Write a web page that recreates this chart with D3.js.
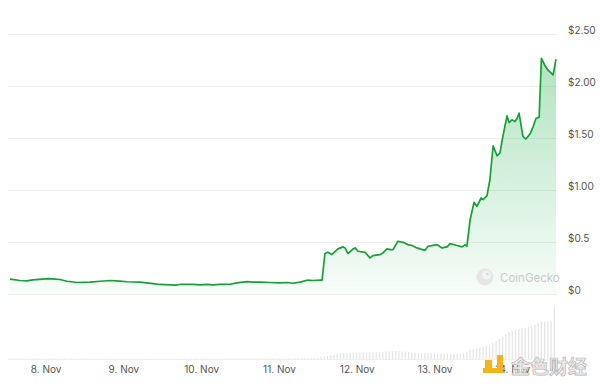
<!DOCTYPE html>
<html>
<head>
<meta charset="utf-8">
<script src="https://cdn.jsdelivr.net/npm/d3@7"></script>
<style>
  html, body { margin: 0; padding: 0; background: #fff; }
  svg { display: block; font-family: Inter, "Noto Sans", sans-serif; }
</style>
</head>
<body>
<svg id="chart" width="600" height="386"></svg>
<script>
// ---- data ----
const startTime = new Date(2024, 10, 7, 13, 0);   // series start
const endTime = new Date(2024, 10, 14, 13, 30);   // series end

// price series: hours after start, price in USD
const priceHours = [0, 3.1, 5.2, 7.1, 9.9, 11.7, 13.9, 15.4, 17.6, 20.7, 24.7, 27.8, 30.9, 33.9, 36.1, 40.1, 44.1,
  46.3, 49.4, 50.9, 52.5, 54.6, 56.5, 58.6, 60.8, 62.6, 64.8, 67.9, 70.0, 73.1, 75.0, 77.2, 80.2, 83.3, 85.5, 87.3, 89.5, 91.7, 93.5, 95.7,
  96.3, 97.2, 98.1, 99.3, 101.2, 102.8, 103.4, 104.3, 105.9, 106.5, 107.4, 109.6, 111.1, 112.0, 114.2, 115.1, 116.3, 117.3, 118.2,
  119.7, 121.3, 122.8, 124.1, 125.6, 126.5, 128.1, 129.0, 130.2, 131.8, 133.3, 134.9, 135.8, 137.9, 139.5, 140.4, 141.0,
  142.0, 143.2, 144.1, 145.4, 146.0, 147.2, 148.1, 149.1, 150.3, 151.2, 152.1, 153.4, 154.0, 154.9, 155.8, 156.5, 157.1,
  158.3, 159.2, 160.5, 161.4, 162.3, 163.3, 164.0, 165.0, 166.0, 167.6, 168.5];
const prices = [0.138, 0.125, 0.122, 0.132, 0.139, 0.144, 0.139, 0.135, 0.118, 0.106, 0.109, 0.118, 0.125, 0.120, 0.113, 0.109, 0.096,
  0.087, 0.084, 0.080, 0.087, 0.089, 0.087, 0.084, 0.087, 0.084, 0.087, 0.089, 0.103, 0.115, 0.109, 0.109, 0.106, 0.103, 0.106, 0.099, 0.109, 0.128, 0.125, 0.128,
  0.128, 0.385, 0.397, 0.375, 0.430, 0.449, 0.439, 0.385, 0.430, 0.439, 0.407, 0.397, 0.343, 0.365, 0.375, 0.391, 0.430, 0.423, 0.423,
  0.503, 0.493, 0.471, 0.462, 0.439, 0.430, 0.416, 0.455, 0.462, 0.471, 0.439, 0.449, 0.481, 0.462, 0.449, 0.468, 0.455,
  0.712, 0.878, 0.839, 0.920, 0.904, 0.942, 1.096, 1.423, 1.327, 1.353, 1.513, 1.712, 1.647, 1.673, 1.657, 1.686, 1.738,
  1.513, 1.488, 1.538, 1.603, 1.686, 1.699, 2.266, 2.202, 2.154, 2.106, 2.257];

// hourly volume (millions USD), hour 0 .. 168
const volumes = [
  0.3, 0.4, 0.3, 0.3, 0.2, 0.3, 0.4, 0.3, 0.3, 0.2, 0.3, 0.3, 0.4, 0.3, 0.2, 0.3, 0.3, 0.3, 0.2, 0.3, 0.3, 0.2, 0.3, 0.3,
  0.2, 0.3, 0.3, 0.2, 0.2, 0.3, 0.3, 0.2, 0.3, 0.2, 0.2, 0.3, 0.2, 0.2, 0.3, 0.2, 0.2, 0.2, 0.3, 0.2, 0.2, 0.2, 0.2, 0.3,
  0.2, 0.2, 0.2, 0.3, 0.2, 0.2, 0.2, 0.2, 0.3, 0.2, 0.2, 0.3, 0.2, 0.2, 0.2, 0.3, 0.2, 0.3, 0.3, 0.3, 0.4, 0.3, 0.3, 0.3,
  0.3, 0.3, 0.4, 0.3, 0.3, 0.3, 0.4, 0.3, 0.3, 0.3, 0.3, 0.4, 0.3, 0.3, 0.3, 0.3, 0.4, 0.4, 0.3, 0.4, 0.5, 0.5, 0.6, 0.6,
  1.0, 1.2, 1.5, 1.8, 2.0, 2.5, 2.8, 3.0, 3.0,
  3.2, 3.3, 3.4, 3.3, 3.5, 3.4, 3.6, 3.5, 3.4, 3.6, 3.7,
  3.8, 3.9, 4.0, 4.1, 4.0, 3.8,
  3.6, 3.5, 3.3, 3.2, 3.0, 3.1, 3.0, 2.9, 2.8,
  2.8, 2.7, 2.8, 2.6, 2.7, 2.6, 2.5, 2.6, 2.7, 2.9,
  3.5, 4.5, 5.0, 5.2, 5.5, 6.0, 6.5, 7.2, 8.0, 9.0, 10.0, 11.0, 12.5, 13.5, 14.2, 14.8, 15.0, 15.3, 15.5, 15.8,
  16.2, 17.0, 18.0, 18.5, 18.8, 19.0, 19.2, 26.0];

const priceTicks = [0, 0.5, 1, 1.5, 2, 2.5];
const priceTickLabels = ["$0", "$0.5", "$1.00", "$1.50", "$2.00", "$2.50"];
const volumeMax = 30;

// ---- drawing ----
const svg = d3.select("#chart");
const HOUR = 3600 * 1000;
const toDate = h => new Date(startTime.getTime() + h * HOUR);

const x = d3.scaleTime().domain([startTime, endTime]).range([10, 556]);
const y = d3.scaleLinear().domain([0, 2.5]).range([293.5, 34]);
const yVol = d3.scaleLinear().domain([0, volumeMax]).range([359, 299]);

const priceData = priceHours.map((h, i) => ({ t: toDate(h), v: prices[i] }));
const volData = volumes.map((v, i) => ({ t: toDate(i), v }));

// gradient
const defs = svg.append("defs");
const grad = defs.append("linearGradient").attr("id", "areaGrad")
  .attr("gradientUnits", "userSpaceOnUse")
  .attr("x1", 0).attr("x2", 0)
  .attr("y1", y(d3.max(prices))).attr("y2", y(0));
grad.append("stop").attr("offset", "0%").attr("stop-color", "#0aa83a").attr("stop-opacity", 0.32);
grad.append("stop").attr("offset", "100%").attr("stop-color", "#0aa83a").attr("stop-opacity", 0.03);

// grid lines
svg.append("g").selectAll("line").data(priceTicks).join("line")
  .attr("x1", 8).attr("x2", 557)
  .attr("y1", d => Math.round(y(d)) + 0.5).attr("y2", d => Math.round(y(d)) + 0.5)
  .attr("stroke", "#efefef").attr("stroke-width", 1);

// price axis (right)
const yAxis = d3.axisRight(y).tickValues(priceTicks)
  .tickFormat((d, i) => priceTickLabels[i]).tickSize(0).tickPadding(0);
const ya = svg.append("g").attr("transform", "translate(568,-3.5)").call(yAxis);
ya.select(".domain").remove();
ya.selectAll("text").attr("fill", "#555").attr("font-size", 10)
  .attr("font-family", "Inter, 'Noto Sans', sans-serif");

// volume bars
svg.append("g").selectAll("rect").data(volData).join("rect")
  .attr("x", d => x(d.t) - 0.6)
  .attr("width", 1.2)
  .attr("y", d => yVol(d.v))
  .attr("height", d => yVol(0) - yVol(d.v))
  .attr("fill", "#e4e4e4");

// bottom axis line
svg.append("line").attr("x1", 8).attr("x2", 557).attr("y1", 359.5).attr("y2", 359.5)
  .attr("stroke", "#efefef");

// area + line
const area = d3.area().x(d => x(d.t)).y0(y(0)).y1(d => y(d.v));
svg.append("path").datum(priceData).attr("d", area).attr("fill", "url(#areaGrad)");

// CoinGecko watermark
const wm = svg.append("g");
wm.append("circle").attr("cx", 485).attr("cy", 277).attr("r", 8.5).attr("fill", "#e6e6e6");
wm.append("circle").attr("cx", 486.5).attr("cy", 275).attr("r", 4.5).attr("fill", "#f2f2f2");
wm.append("circle").attr("cx", 487.5).attr("cy", 274).attr("r", 1.3).attr("fill", "#d8d8d8");
wm.append("text").attr("x", 500).attr("y", 281.5).text("CoinGecko")
  .attr("font-size", 11.5).attr("fill", "#c9c9c9")
  .attr("font-family", "Inter, 'Noto Sans', sans-serif");

const line = d3.line().x(d => x(d.t)).y(d => y(d.v));
svg.append("path").datum(priceData).attr("d", line)
  .attr("fill", "none").attr("stroke", "#16a035").attr("stroke-width", 1.7)
  .attr("stroke-linejoin", "round");

// time axis
const xAxis = d3.axisBottom(x).ticks(d3.timeDay.every(1))
  .tickFormat(d3.timeFormat("%-d. %b")).tickSize(0).tickPadding(0);
const xa = svg.append("g").attr("transform", "translate(0,366)").call(xAxis);
xa.select(".domain").remove();
xa.selectAll("text").attr("fill", "#555").attr("font-size", 10)
  .attr("font-family", "Inter, 'Noto Sans', sans-serif");

// 金色财经 watermark
const jw = svg.append("g");
jw.append("rect").attr("x", 485).attr("y", 360).attr("width", 7).attr("height", 8).attr("fill", "#f3b31b");
jw.append("rect").attr("x", 497).attr("y", 355).attr("width", 6).attr("height", 18).attr("fill", "#f3b31b");
jw.append("rect").attr("x", 483).attr("y", 368).attr("width", 20).attr("height", 5).attr("fill", "#f3b31b");
jw.append("text").attr("x", 511).attr("y", 374).text("金色财经")
  .attr("font-size", 19).attr("font-weight", "bold")
  .attr("font-family", "'Noto Sans CJK SC', sans-serif")
  .attr("fill", "#ececec").attr("stroke", "#b8b8b8").attr("stroke-width", 0.7);
</script>
</body>
</html>
